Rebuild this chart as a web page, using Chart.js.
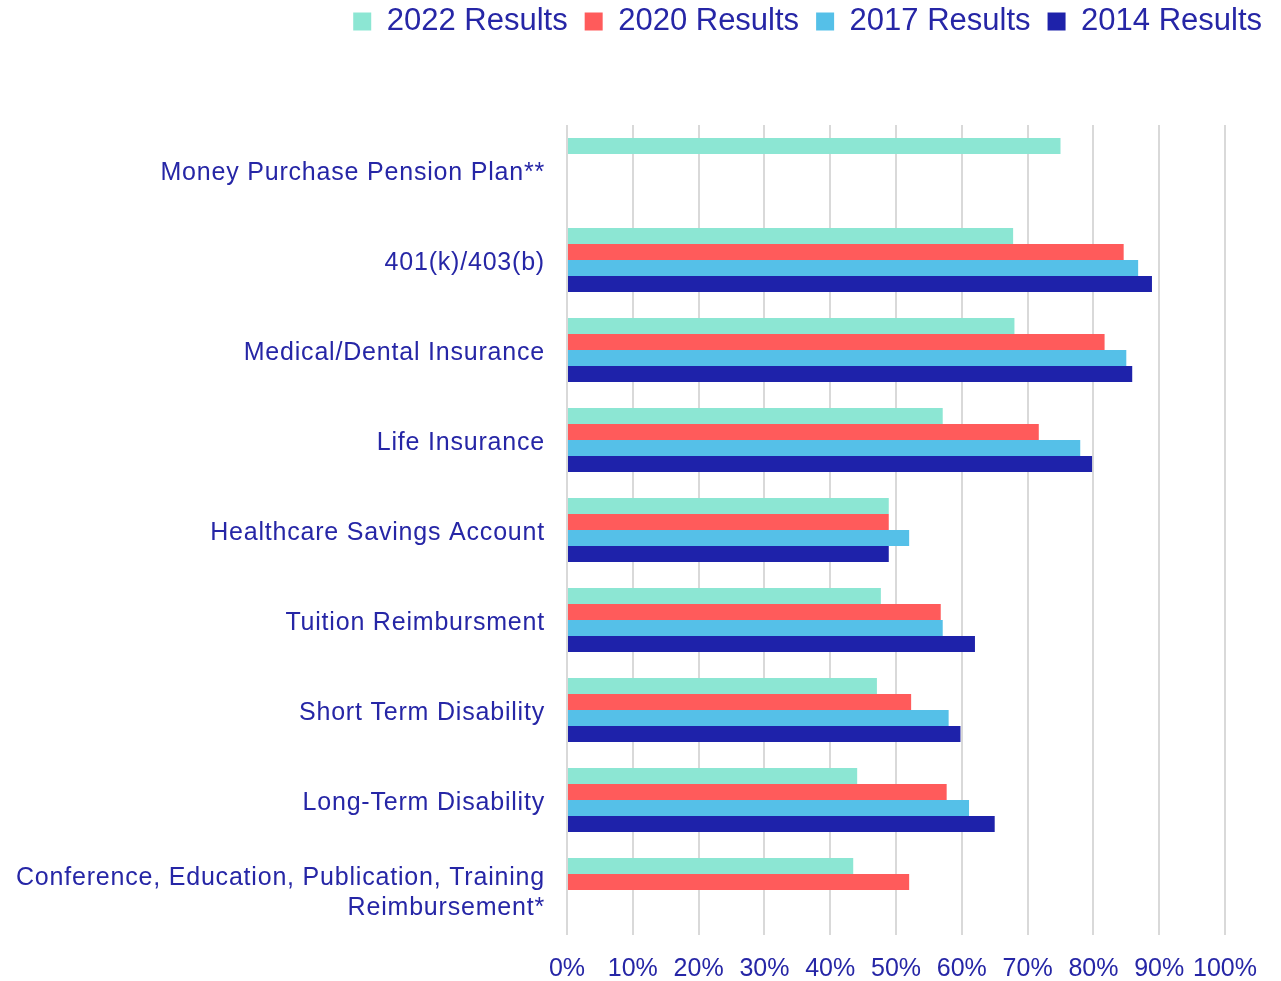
<!doctype html>
<html lang="en">
  <head>
    <meta charset="utf-8">
    <title>Benefits offered</title>
    <style>
      html, body { margin: 0; padding: 0; background: #fff; }
      #chart-box { width: 1281px; height: 981px; }
    </style>
  </head>
  <body>
    <div id="chart-box">
      <canvas id="bar-chart" width="1281" height="981"></canvas>
    </div>

    <script src="https://cdn.jsdelivr.net/npm/chart.js@4/dist/chart.umd.min.js"></script>
    <script>
    // categories (top to bottom)
    const categories = [
      "Money Purchase Pension Plan**",
      "401(k)/403(b)",
      "Medical/Dental Insurance",
      "Life Insurance",
      "Healthcare Savings Account",
      "Tuition Reimbursment",
      "Short Term Disability",
      "Long-Term Disability",
      ["Conference, Education, Publication, Training", "Reimbursement*"]
    ];

    // share of respondents, %
    const results2022 = [75, 67.8, 68, 57.1, 48.9, 47.7, 47.1, 44.1, 43.5];
    const results2020 = [null, 84.6, 81.7, 71.7, 48.9, 56.8, 52.3, 57.7, 52];
    const results2017 = [null, 86.8, 85, 78, 52, 57.1, 58, 61.1, null];
    const results2014 = [null, 88.9, 85.9, 79.8, 48.9, 62, 59.8, 65, null];

    const xTicks = [0, 10, 20, 30, 40, 50, 60, 70, 80, 90, 100];

    const textColor = "#2626a6";
    const gridColor = "#d9d9d9";
    const fontFamily = "'Liberation Sans', Arial, sans-serif";

    // push the plot area down to where it sits in the original
    const legendSpace = {
      id: "legendSpace",
      beforeInit(chart) {
        const fit = chart.legend.fit;
        chart.legend.fit = function() {
          fit.bind(chart.legend)();
          this.height = 136;
        };
      }
    };

    // category labels in the original are slightly letter-spaced
    const spacedLabels = {
      id: "spacedLabels",
      afterUpdate(chart) {
        const y = chart.scales.y;
        if (!y || y._spaced) return;
        const draw = y.drawLabels;
        y.drawLabels = function(area) {
          const c = this.ctx;
          c.save();
          c.letterSpacing = "0.8px";
          draw.call(this, area);
          c.restore();
        };
        y._spaced = true;
      }
    };

    const ctx = document.getElementById("bar-chart");
    const bar_chart = new Chart(ctx, {
      type: "bar",
      data: {
        labels: categories,
        datasets: [
          { label: "2022 Results", data: results2022, backgroundColor: "#8ce6d3" },
          { label: "2020 Results", data: results2020, backgroundColor: "#ff5b5b" },
          { label: "2017 Results", data: results2017, backgroundColor: "#55c0e8" },
          { label: "2014 Results", data: results2014, backgroundColor: "#1e22aa" }
        ]
      },
      options: {
        indexAxis: "y",
        responsive: false,
        animation: false,
        categoryPercentage: 0.711,
        barPercentage: 1.0,
        layout: { padding: { top: -11, right: 2, left: 0, bottom: 0 } },
        scales: {
          x: {
            min: 0,
            max: 100,
            afterBuildTicks: (scale) => { scale.ticks = xTicks.map(v => ({ value: v })); },
            afterFit: (scale) => { scale.height = 46; scale.paddingRight = 56; },
            ticks: {
              callback: (v) => v + "%",
              color: textColor,
              font: { family: fontFamily, size: 25 },
              padding: 19,
              maxRotation: 0
            },
            grid: { color: gridColor, lineWidth: 2, drawTicks: false },
            border: { display: false }
          },
          y: {
            afterFit: (scale) => { scale.width = 567; },
            ticks: {
              color: textColor,
              font: { family: fontFamily, size: 25 },
              padding: 22,
              labelOffset: 3
            },
            grid: { display: false, drawTicks: false },
            border: { display: false }
          }
        },
        plugins: {
          legend: {
            position: "top",
            align: "end",
            labels: {
              boxWidth: 18,
              boxHeight: 18,
              padding: 17,
              color: textColor,
              font: { family: fontFamily, size: 31 }
            }
          },
          tooltip: { enabled: false }
        }
      },
      plugins: [legendSpace, spacedLabels]
    });
    </script>
  </body>
</html>
